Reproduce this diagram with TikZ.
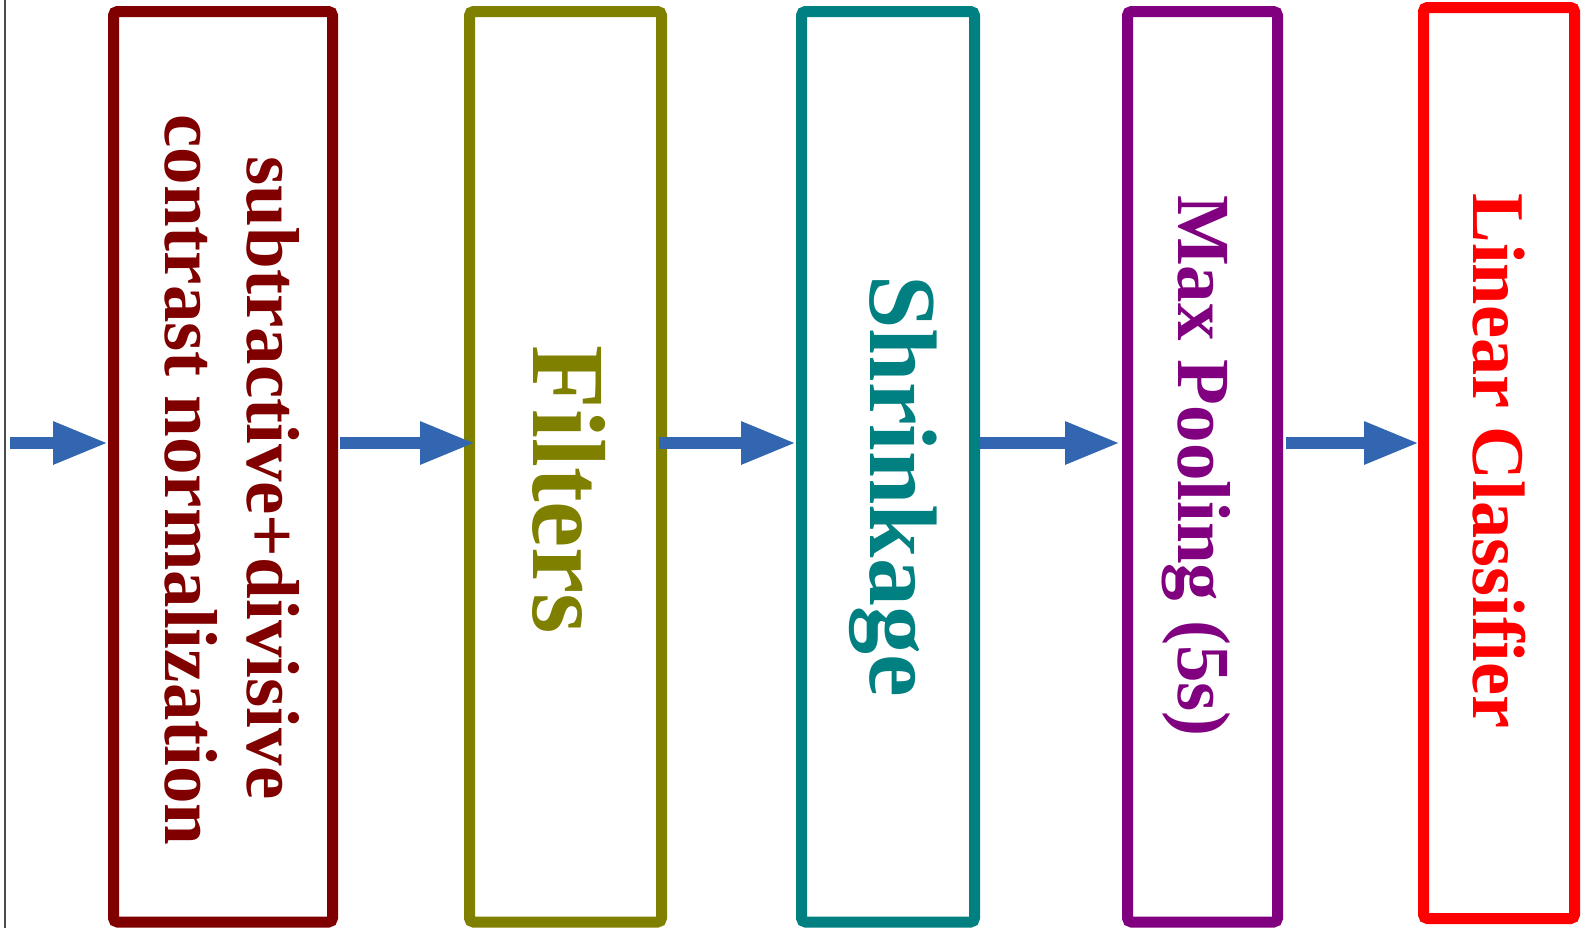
\documentclass[tikz,border=0pt]{standalone}
\usepackage{fontspec}
\setmainfont{Liberation Serif}
\usetikzlibrary{arrows.meta}
\definecolor{wine}{RGB}{128,0,0}
\definecolor{moss}{RGB}{128,128,0}
\definecolor{lagoon}{RGB}{0,128,128}
\definecolor{plum}{RGB}{128,0,128}
\definecolor{scarlet}{RGB}{255,0,0}
\definecolor{cobalt}{RGB}{51,102,176}
\tikzset{
  >={Triangle[length=27.5pt,width=20pt]},
  stage/.style={draw=#1,line width=5.5pt,rounded corners=2pt,inner sep=0pt},
  tag/.style={text=#1,rotate=-90,anchor=base,inner sep=0pt},
  flow/.style={->,line width=6pt,draw=cobalt},
}
\newcommand\bfsize[1]{\bfseries\fontsize{#1}{#1}\selectfont}

\begin{document}
\begin{tikzpicture}[x=0.5pt,y=-0.5pt]
    \useasboundingbox (0,0) rectangle (1585,928);
    \draw[gray!60!black,line width=0.6pt] (5,0) -- (5,928);
    % processing stages
    \foreach \c/\x/\y/\w/\h [count=\i] in {
      wine/223/466.75/109.5/455.25,
      moss/565.5/466.75/96/455.25,
      lagoon/888/466.75/86.5/455.25,
      plum/1202.5/466.75/75/455.25,
      scarlet/1499/463/75.5/455.5}
    {
      \node[stage=\c,minimum width=\w pt,minimum height=\h pt] (b\i) at (\x,\y) {};
    }
    \node[tag=wine,font=\bfsize{37.5}] (l1a) at (247,478) {subtractive+divisive};
    \node[tag=wine,font=\bfsize{37.5}] (l1b) at (165,480) {contrast normalization};
    \node[tag=moss,font=\bfsize{52}] (l2) at (533,490) {Filters};
    \node[tag=lagoon,font=\bfsize{48}] (l3) at (870,486) {Shrinkage};
    \node[tag=plum,font=\bfsize{37.5}] (l4) at (1178,466) {Max Pooling (5s)};
    \node[tag=scarlet,font=\bfsize{37.2}] (l5) at (1473,461) {Linear Classifier};
    % arrows
    \coordinate (in) at (10,443);
    \draw[flow] (in) -- (in -| b1.west);
    \foreach \i/\j/\s/\e in {1/2/2/-11,2/3/-8/0,3/4/0/2,4/5/3/-1}
      \draw[flow,shorten <=\s*0.5pt,shorten >=\e*0.5pt] (in -| b\i.east) -- (in -| b\j.west);
\end{tikzpicture}
\end{document}
